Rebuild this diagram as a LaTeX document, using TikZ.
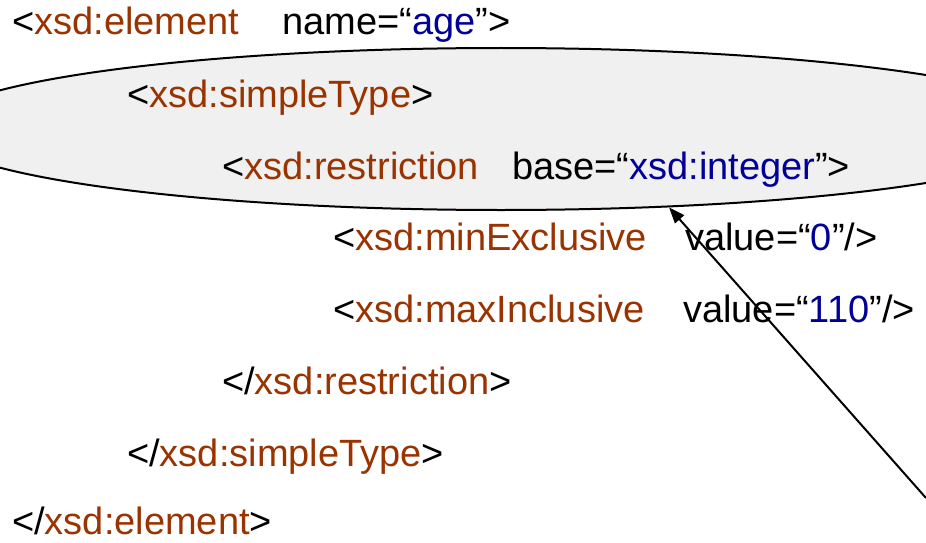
\documentclass[tikz,border=0pt]{standalone}
\usepackage{fontspec}
\setmainfont{Liberation Sans}
\usepackage{tikz}
\usetikzlibrary{shapes.geometric, arrows.meta}
\definecolor{xsdbrown}{RGB}{153,51,0}
\definecolor{xsdblue}{RGB}{0,0,153}
\definecolor{xsdgray}{RGB}{240,240,240}
\tikzset{
  %% ---- text ----
  codeline/.style = {anchor=base west, inner sep=0pt,
                     font=\fontsize{38}{44}\selectfont},
  %% ---- highlight ----
  typeoval/.style = {ellipse, draw=black, line width=2pt,
                     fill=xsdgray, inner sep=0pt,
                     minimum width=1140pt, minimum height=162pt},
  %% ---- arrows ----
  pointer/.style  = {-{Triangle[length=16pt, width=12pt]}, line width=2pt, color=black},
}
\newcommand{\tg}[1]{\textcolor{xsdbrown}{#1}}
\newcommand{\vl}[1]{\textcolor{xsdblue}{#1}}

\begin{document}
\begin{tikzpicture}

  \clip (0pt,0pt) rectangle (926pt,-543pt);
  \fill[white] (0pt,0pt) rectangle (926pt,-543pt);

  %% Highlighted simpleType part
  \node[typeoval] (typebox) at (501pt,-129pt) {};

  %% Element
  \node[codeline] (elemopen)  at (12pt,-35pt)  {<\tg{xsd:element}};
  \node[codeline] (elemattr)  at (282pt,-35pt) {name=“\vl{age}”>};

  %% Simple type
  \node[codeline] (typeopen)  at (127pt,-107pt) {<\tg{xsd:simpleType}>};

  %% Restriction
  \node[codeline] (restopen)  at (222pt,-179pt) {<\tg{xsd:restriction}};
  \node[codeline] (restattr)  at (512pt,-179pt) {base=“\vl{xsd:integer}”>};

  %% Facets
  \node[codeline] (minfacet)  at (333pt,-250pt) {<\tg{xsd:minExclusive}};
  \node[codeline] (minattr)   at (685pt,-250pt) {value=“\vl{0}”/>};
  \node[codeline] (maxfacet)  at (333pt,-322pt) {<\tg{xsd:maxInclusive}};
  \node[codeline] (maxattr)   at (683pt,-322pt) {value=“\vl{110}”/>};

  %% Closing tags
  \node[codeline] (restclose) at (222pt,-394pt) {</\tg{xsd:restriction}>};
  \node[codeline] (typeclose) at (127pt,-466pt) {</\tg{xsd:simpleType}>};
  \node[codeline] (elemclose) at (12pt,-534pt)  {</\tg{xsd:element}>};

  %% Pointer to the base type
  \coordinate (pointfrom) at (926pt,-498pt);
  \draw[pointer] (pointfrom) -- (typebox.-25.5);

\end{tikzpicture}
\end{document}
